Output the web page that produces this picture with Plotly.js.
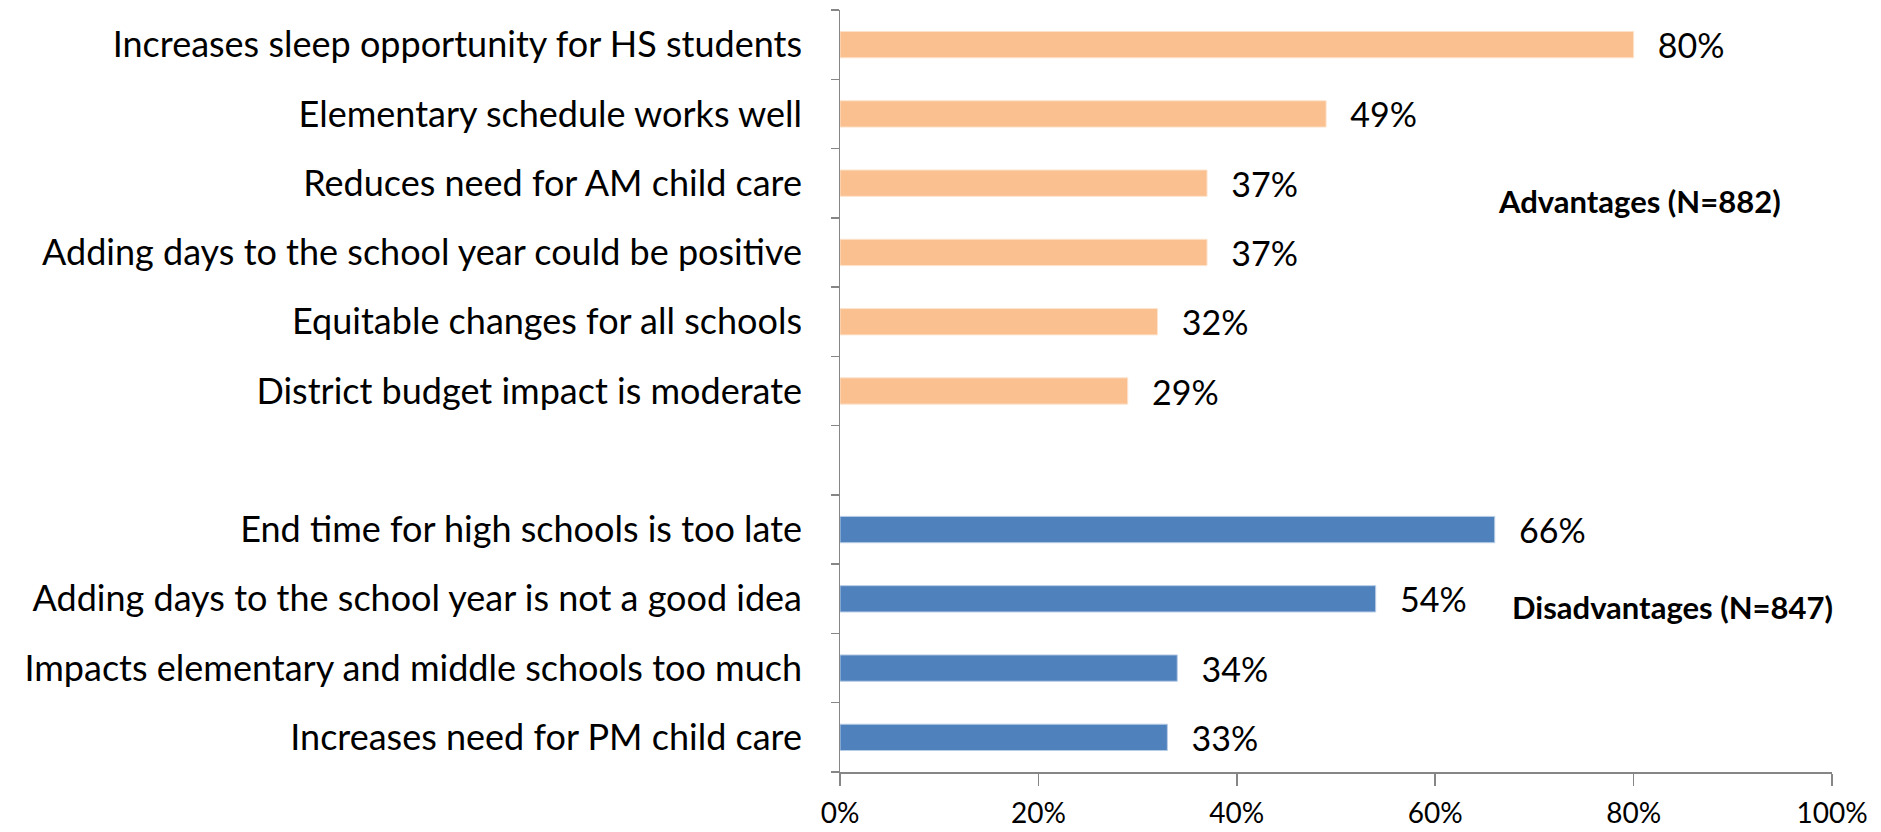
<!DOCTYPE html>
<html>
<head>
<meta charset="utf-8">
<script src="https://cdn.plot.ly/plotly-3.0.1.min.js"></script>
<style>html,body{margin:0;padding:0;background:#fff;}#chart{width:1881px;height:832px;}</style>
</head>
<body>
<div id="chart"></div>
<script>
const advCategories = [
  "Increases sleep opportunity for HS students",
  "Elementary schedule works well",
  "Reduces need for AM child care",
  "Adding days to the school year could be positive",
  "Equitable changes for all schools",
  "District budget impact is moderate"
];
const advValues = [80, 49, 37, 37, 32, 29];
const disCategories = [
  "End time for high schools is too late",
  "Adding days to the school year is not a good idea",
  "Impacts elementary and middle schools too much",
  "Increases need for PM child care"
];
const disValues = [66, 54, 34, 33];
const spacerCategory = " ";
const xTickVals = [0, 20, 40, 60, 80, 100];
const xTickText = ["0%", "20%", "40%", "60%", "80%", "100%"];
const advLabel = "Advantages (N=882)";
const disLabel = "Disadvantages (N=847)";

const allCats = advCategories.concat([spacerCategory], disCategories);
const boundaryTicks = allCats.map((c, i) => i).concat([allCats.length]);

const font = "Lato, 'Open Sans', sans-serif";
const pad = "\u2002\u2009";

const traces = [
  {
    type: "bar", orientation: "h",
    y: advCategories, x: advValues,
    marker: {color: "#FAC090", line: {color: "#FDE3CC", width: 1}},
    width: 0.38,
    text: advValues.map(v => pad + v + "%"), textposition: "outside",
    constraintext: "none",
    textfont: {family: font, size: 34, color: "#000"},
    cliponaxis: false, hoverinfo: "skip", showlegend: false
  },
  {
    type: "bar", orientation: "h",
    y: disCategories, x: disValues,
    marker: {color: "#4F81BD", line: {color: "#B9CDE5", width: 1}},
    width: 0.38,
    text: disValues.map(v => pad + v + "%"), textposition: "outside",
    constraintext: "none",
    textfont: {family: font, size: 34, color: "#000"},
    cliponaxis: false, hoverinfo: "skip", showlegend: false
  },
  {
    type: "scatter", mode: "markers", x: [null], y: [null],
    yaxis: "y2", hoverinfo: "skip", showlegend: false
  }
];

const layout = {
  width: 1881, height: 832,
  margin: {l: 840, r: 49, t: 10, b: 60},
  paper_bgcolor: "#fff", plot_bgcolor: "#fff",
  font: {family: font, color: "#000"},
  barmode: "overlay",
  xaxis: {
    range: [0, 100], tickvals: xTickVals, ticktext: xTickText,
    showgrid: false, zeroline: false,
    showline: true, linecolor: "#868686", linewidth: 1.5,
    ticks: "outside", ticklen: 12, tickcolor: "#868686", tickwidth: 1.5,
    ticklabelstandoff: 4,
    tickfont: {family: font, size: 28, color: "#000"},
    fixedrange: true
  },
  yaxis: {
    type: "category", categoryorder: "array", categoryarray: allCats,
    range: [allCats.length - 0.5, -0.5],
    showgrid: false, zeroline: false, showline: false,
    ticks: "", ticklabelstandoff: 37,
    tickfont: {family: font, size: 36, color: "#000"},
    fixedrange: true
  },
  yaxis2: {
    overlaying: "y", anchor: "x", side: "left",
    range: [allCats.length, 0],
    tickvals: boundaryTicks, showticklabels: false,
    showgrid: false, zeroline: false,
    showline: true, linecolor: "#868686", linewidth: 1.5,
    ticks: "outside", ticklen: 8, tickcolor: "#868686", tickwidth: 1.5,
    fixedrange: true
  },
  annotations: [
    {text: "<b>" + advLabel + "</b>", xref: "paper", yref: "y", x: 0.806,
     y: allCats.indexOf(advCategories[2]) + 0.25,
     xanchor: "center", yanchor: "middle", showarrow: false,
     font: {family: font, size: 31, color: "#000"}},
    {text: "<b>" + disLabel + "</b>", xref: "paper", yref: "y", x: 0.839,
     y: allCats.indexOf(disCategories[1]) + 0.12,
     xanchor: "center", yanchor: "middle", showarrow: false,
     font: {family: font, size: 31, color: "#000"}}
  ]
};

Plotly.newPlot("chart", traces, layout, {displayModeBar: false, staticPlot: true});
</script>
</body>
</html>
